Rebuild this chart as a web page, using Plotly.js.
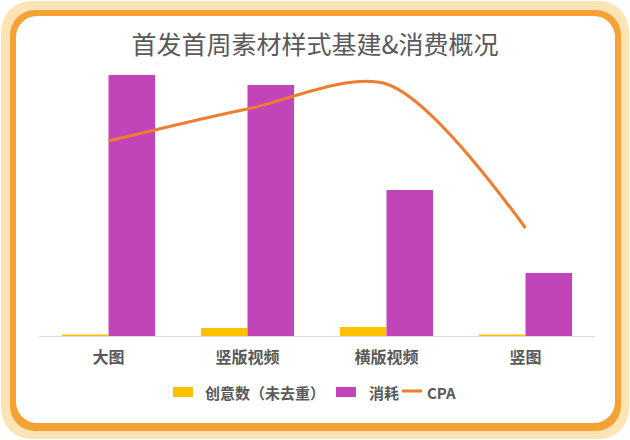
<!DOCTYPE html>
<html>
<head>
<meta charset="utf-8">
<script src="https://cdn.plot.ly/plotly-3.0.1.min.js"></script>
<style>
  html, body { margin: 0; padding: 0; background: #ffffff; }
  .box { position: absolute; }
  #glow  { left: 1px; top: 1px; width: 628px; height: 438px; border-radius: 30px; background: #fde4b6; }
  #frame { left: 10px; top: 10px; width: 611px; height: 421px; border-radius: 25px; background: #f5a234; }
  #inner { left: 16px; top: 16px; width: 599px; height: 407px; border-radius: 21px; background: #ffffff; }
  #chart { left: 0; top: 0; width: 630px; height: 440px; }
</style>
</head>
<body>
<div class="box" id="glow"></div>
<div class="box" id="frame"></div>
<div class="box" id="inner"></div>
<div class="box" id="chart"></div>
<script>
// 数据
const categories = ['大图', '竖版视频', '横版视频', '竖图'];
const creativeCount = [1.5, 8, 9, 1.5];     // 创意数（未去重）
const spend = [261, 251, 146, 63];          // 消耗
const cpa = [195, 227, 252, 108];           // CPA
const seriesNames = ['创意数（未去重）', '消耗', 'CPA'];
const seriesColors = ['#ffc000', '#c144b8', '#ed7d31'];

const textColor = '#595959';
const fontFamily = '"Noto Sans CJK SC", "Noto Sans", sans-serif';

// 绘图区像素范围，用来把手画图例换算成 paper 坐标
const M = { l: 39, r: 35, t: 56, b: 104 };
const plotW = 630 - M.l - M.r, plotH = 440 - M.t - M.b;
const px = v => (v - M.l) / plotW;
const py = v => (440 - M.b - v) / plotH;

const traces = [
  {
    type: 'bar', name: seriesNames[0],
    x: categories, y: creativeCount,
    marker: { color: seriesColors[0] },
    hoverinfo: 'none'
  },
  {
    type: 'bar', name: seriesNames[1],
    x: categories, y: spend,
    marker: { color: seriesColors[1] },
    hoverinfo: 'none'
  },
  {
    type: 'scatter', mode: 'lines', name: seriesNames[2],
    x: categories, y: cpa, yaxis: 'y2',
    line: { color: seriesColors[2], width: 3, shape: 'spline', smoothing: 0.85 },
    hoverinfo: 'none'
  }
];

// 图例：色块 + 文字（Plotly 自带图例间距对不上，手动摆）
const legendY = 392;
const legendItems = [
  { kind: 'rect', x0: 173, x1: 193, tx: 203 },
  { kind: 'rect', x0: 336, x1: 356, tx: 367 },
  { kind: 'line', x0: 402, x1: 422, tx: 425 }
];
const shapes = [], annotations = [];
legendItems.forEach((it, i) => {
  if (it.kind === 'rect') {
    shapes.push({
      type: 'rect', xref: 'paper', yref: 'paper',
      x0: px(it.x0), x1: px(it.x1), y0: py(legendY - 5), y1: py(legendY + 5),
      fillcolor: seriesColors[i], line: { width: 0 }
    });
  } else {
    shapes.push({
      type: 'line', xref: 'paper', yref: 'paper',
      x0: px(it.x0), x1: px(it.x1), y0: py(legendY - 1), y1: py(legendY - 1),
      line: { color: seriesColors[i], width: 3 }
    });
  }
  annotations.push({
    xref: 'paper', yref: 'paper', x: px(it.tx), y: py(legendY),
    xanchor: 'left', yanchor: 'middle', showarrow: false,
    text: seriesNames[i],
    font: { size: 15, color: textColor, weight: 'bold', family: fontFamily }
  });
});

const layout = {
  width: 630, height: 440,
  paper_bgcolor: 'rgba(0,0,0,0)',
  plot_bgcolor: 'rgba(0,0,0,0)',
  margin: M,
  font: { family: fontFamily, color: textColor },
  title: {
    text: '首发首周素材样式基建&消费概况',
    font: { size: 25, color: textColor, family: fontFamily },
    x: 0.5, xanchor: 'center',
    y: 1 - 45 / 440, yref: 'container', yanchor: 'middle'
  },
  barmode: 'group',
  bargap: 0.33,
  bargroupgap: 0,
  xaxis: {
    showline: true, linecolor: '#d9d9d9', linewidth: 1,
    ticks: '', showgrid: false,
    ticklabelstandoff: 7,
    tickfont: { size: 16, color: textColor, weight: 'bold' }
  },
  yaxis: {
    range: [0, 280], visible: false, showgrid: false, zeroline: false
  },
  yaxis2: {
    range: [0, 280], overlaying: 'y', side: 'right',
    visible: false, showgrid: false, zeroline: false
  },
  showlegend: false,
  shapes: shapes,
  annotations: annotations
};

Plotly.newPlot('chart', traces, layout, { displayModeBar: false, staticPlot: true });
</script>
</body>
</html>
